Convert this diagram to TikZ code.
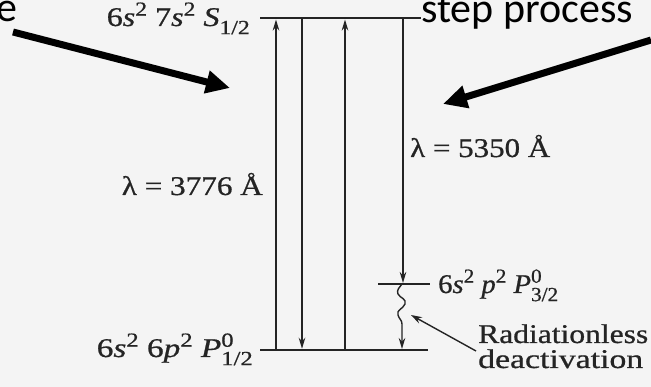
\documentclass[tikz,border=0pt]{standalone}
\usepackage{fontspec}
\setmainfont{Liberation Serif}
\newfontfamily\labfont[FakeBold=0.7]{Liberation Serif}
\newfontfamily\calib{Carlito}
\usetikzlibrary{arrows.meta}
\newcommand{\wfit}[2]{\resizebox{#1}{\height}{#2}}
\newcommand{\sups}[1]{\raisebox{0.38em}{\fontsize{20}{20}\selectfont #1}}
\newcommand{\subs}[1]{\raisebox{-0.30em}{\fontsize{20}{20}\selectfont #1}}
\newcommand{\both}[2]{\rlap{\sups{#1}}\subs{#2}}
\definecolor{ink}{gray}{0.14}
\definecolor{paper}{gray}{0.955}
\begin{document}
\begin{tikzpicture}[x=1pt,y=-1pt,
  level/.style={draw=ink,line width=2.4pt},
  trans/.style={draw=ink,line width=1.8pt,-{Stealth[length=11pt,width=6.5pt]}},
  lab/.style={inner sep=0pt,text=ink,font=\labfont\fontsize{27}{30}\selectfont},
  big/.style={inner sep=0pt,font=\calib\fontsize{42}{48}\selectfont},
  bigarrow/.style={line width=7pt,-{Triangle[length=24pt,width=22pt]}}]
\fill[paper] (0,0) rectangle (651,387);
\useasboundingbox (0,0) rectangle (651,387);
% energy levels
\coordinate (TL) at (260,18);  \coordinate (TR) at (421,18);
\coordinate (ML) at (378,284); \coordinate (MR) at (430,284);
\coordinate (BL) at (260,350); \coordinate (BR) at (428,350);
\draw[level] (TL) -- (TR);
\draw[level] (ML) -- (MR);
\draw[level] (BL) -- (BR);
% transitions
\coordinate (a1) at (276,350); \coordinate (a2) at (276,19.5);
\coordinate (b1) at (302,18);  \coordinate (b2) at (302,348.8);
\coordinate (c1) at (345,350); \coordinate (c2) at (345,19.5);
\coordinate (d1) at (403,18);  \coordinate (d2) at (403,283);
\draw[trans] (a1) -- (a2);
\draw[trans] (b1) -- (b2);
\draw[trans] (c1) -- (c2);
\draw[trans] (d1) -- (d2);
% radiationless wavy transition
\coordinate (w0) at (402,284); \coordinate (w1) at (402,349);
\draw[trans,line width=1.4pt] (w0) .. controls (400,287) and (396,290) .. (398,294)
  .. controls (400,298) and (407,299) .. (405,304)
  .. controls (403,309) and (396,310) .. (398,315)
  .. controls (399,319) and (402,320) .. (402,324) -- (w1);
% labels
\node[lab,anchor=base east] (lt) at (250,26) {\wfit{143pt}{6\textit{s}\sups{2} 7\textit{s}\sups{2} \textit{S}\subs{1/2}}};
\node[lab,anchor=base east] (l1) at (263,195) {\wfit{141pt}{λ = 3776 Å}};
\node[lab,anchor=base west] (l2) at (410,157) {\wfit{140pt}{λ = 5350 Å}};
\node[lab,anchor=base east] (lb) at (253,357) {\wfit{156pt}{6\textit{s}\sups{2} 6\textit{p}\sups{2} \textit{P}\both{0}{1/2}}};
\node[lab,anchor=base west] (lm) at (438,293) {\wfit{120pt}{6\textit{s}\sups{2} \textit{p}\sups{2} \textit{P}\both{0}{3/2}}};
\node[lab,anchor=base west] (r1) at (478,343) {\wfit{170pt}{Radiationless}};
\node[lab,anchor=base west] (r2) at (478,368) {\wfit{165pt}{deactivation}};
% pointer to wavy line
\coordinate (p0) at (476,351); \coordinate (p1) at (411,315);
\draw[draw=ink,line width=1.4pt,-{Stealth[length=11pt,width=7pt]}] (p0) -- (p1);
% overlay annotations
\node[big,anchor=base east] (e) at (18,22) {e};
\node[big,anchor=base west] (sp) at (421,23) {step process};
\coordinate (la0) at (13,32);  \coordinate (la1) at (230,88);
\coordinate (ra0) at (651,40); \coordinate (ra1) at (443,104);
\draw[bigarrow] (la0) -- (la1);
\draw[bigarrow] (ra0) -- (ra1);
\end{tikzpicture}
\end{document}
